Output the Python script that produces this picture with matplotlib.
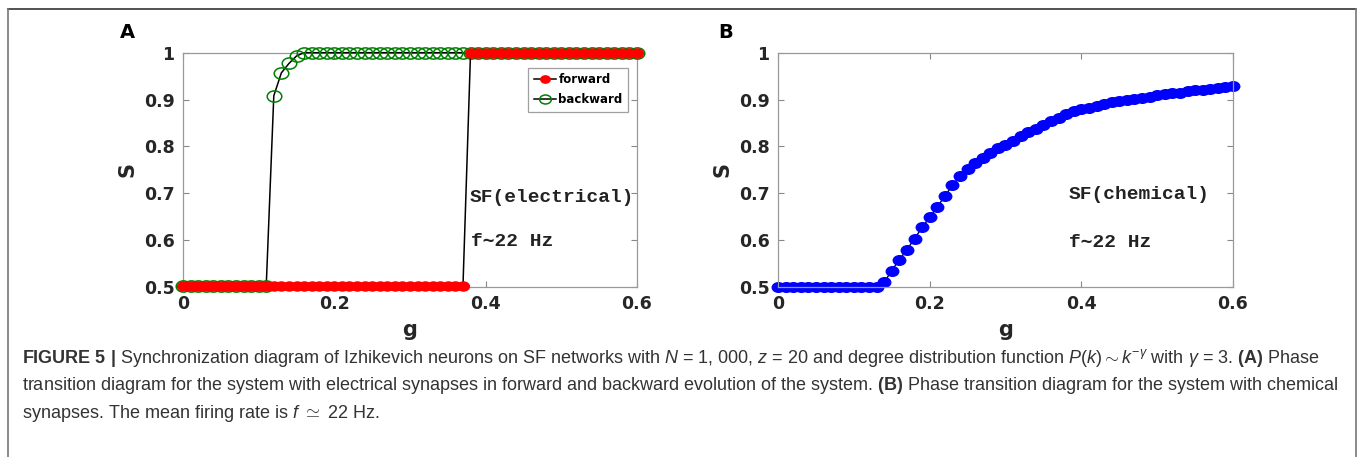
import numpy as np
import matplotlib
matplotlib.use("Agg")
import matplotlib.pyplot as plt
from matplotlib.path import Path
from matplotlib.transforms import Affine2D
from matplotlib.lines import Line2D

plt.rcParams["mathtext.fontset"] = "custom"
plt.rcParams["mathtext.rm"] = "Liberation Sans"
plt.rcParams["mathtext.it"] = "Liberation Sans:italic"
plt.rcParams["mathtext.bf"] = "Liberation Sans:bold"

# coupling strength grid (step 0.01)
g = [round(0.01 * i, 2) for i in range(61)]

# panel A: electrical synapses, forward / backward sweeps
s_forward = [0.502] * 38 + [1.0] * 23
s_backward = [0.502] * 12 + [0.908, 0.957, 0.977, 0.993] + [1.0] * 45

# panel B: chemical synapses
s_chemical = [0.5] * 14 + [
    0.510, 0.535, 0.558, 0.580, 0.603, 0.627, 0.649, 0.671, 0.694, 0.717,
    0.737, 0.752, 0.765, 0.776, 0.787, 0.796, 0.804, 0.811, 0.822, 0.831,
    0.838, 0.845, 0.854, 0.861, 0.869, 0.875, 0.879, 0.883, 0.887, 0.891,
    0.894, 0.896, 0.899, 0.901, 0.904, 0.906, 0.909, 0.911, 0.913, 0.915,
    0.918, 0.920, 0.921, 0.923, 0.925, 0.927, 0.930]

xticks = [0, 0.2, 0.4, 0.6]
xticklabels = ["0", "0.2", "0.4", "0.6"]
yticks = [0.5, 0.6, 0.7, 0.8, 0.9, 1.0]
yticklabels = ["0.5", "0.6", "0.7", "0.8", "0.9", "1"]

caption = [
    r"$\mathbf{FIGURE\ 5\ |}$ Synchronization diagram of Izhikevich neurons on SF networks with "
    r"$N$ = 1, 000, $z$ = 20 and degree distribution function $P(k){\sim}k^{-\gamma}$ with "
    r"$\gamma$ = 3. $\mathbf{(A)}$ Phase",
    r"transition diagram for the system with electrical synapses in forward and backward "
    r"evolution of the system. $\mathbf{(B)}$ Phase transition diagram for the system with chemical",
    r"synapses. The mean firing rate is $f$ $\simeq$ 22 Hz.",
]

# slightly wide ellipse marker
ellipse = Path.unit_circle().transformed(Affine2D().scale(1.3, 1.0))

W, H = 1360, 457
fig = plt.figure(figsize=(W / 100, H / 100), dpi=100)

tick_font = dict(family="DejaVu Sans", weight="bold", size=12.5, color="#262626")
mono = ["Liberation Mono", "DejaVu Sans Mono"]


def style_axes(ax):
    ax.set_xlim(0, 0.6)
    ax.set_ylim(0.5, 1.0)
    ax.set_xticks(xticks)
    ax.set_xticklabels(xticklabels, fontdict=tick_font)
    ax.set_yticks(yticks)
    ax.set_yticklabels(yticklabels, fontdict=tick_font)
    ax.tick_params(direction="in", length=4, width=0.8, color="#888888",
                   top=True, right=True, pad=6)
    for sp in ax.spines.values():
        sp.set_color("#999999")
        sp.set_linewidth(0.9)
    ax.set_xlabel("g", family="DejaVu Sans", weight="bold", size=15, color="#262626")
    ax.set_ylabel("S", family="DejaVu Sans", weight="bold", size=15, color="#262626")
    ax.xaxis.set_label_coords(0.5, -0.14)
    ax.yaxis.set_label_coords(-0.10, 0.5)


axA = fig.add_axes([183 / W, 1 - 287 / H, 454 / W, 234.3 / H])
axA.plot(g, s_backward, "-", color="k", lw=1.1, marker=ellipse, ms=10.5,
         mfc="none", mec="#008000", mew=1.1, clip_on=False, label="backward", zorder=3)
axA.plot(g, s_forward, "-", color="k", lw=1.1, marker=ellipse, ms=8.5,
         mfc="red", mec="red", clip_on=False, label="forward", zorder=4)
style_axes(axA)
h, l = axA.get_legend_handles_labels()
leg = axA.legend(h[::-1], l[::-1], loc="upper right", bbox_to_anchor=(0.98, 0.935),
                 borderaxespad=0, frameon=True, fancybox=False, handlelength=1.9,
                 handletextpad=0.2, borderpad=0.45, labelspacing=0.6,
                 markerscale=0.8,
                 prop=dict(family="DejaVu Sans", weight="bold", size=8.5))
leg.get_frame().set_edgecolor("#888888")
leg.get_frame().set_linewidth(0.9)
axA.text(0.379, 0.690, "SF(electrical)", family=mono, weight="bold", size=14,
         va="center", ha="left", color="#222222")
axA.text(0.381, 0.598, "f\u223c22 Hz", family=mono, weight="bold", size=14,
         va="center", ha="left", color="#222222")

axB = fig.add_axes([778 / W, 1 - 287 / H, 455 / W, 234.3 / H])
axB.plot(g, s_chemical, "-", color="k", lw=1.0, marker=ellipse, ms=9,
         mfc="blue", mec="blue", clip_on=False)
style_axes(axB)
axB.text(0.383, 0.698, "SF(chemical)", family=mono, weight="bold", size=14,
         va="center", ha="left", color="#222222")
axB.text(0.384, 0.594, "f\u223c22 Hz", family=mono, weight="bold", size=14,
         va="center", ha="left", color="#222222")

fig.text(127 / W, 1 - 32 / H, "A", family="DejaVu Sans", weight="bold", size=14,
         ha="center", va="center")
fig.text(726 / W, 1 - 32 / H, "B", family="DejaVu Sans", weight="bold", size=14,
         ha="center", va="center")

# caption block
for i, line in enumerate(caption):
    fig.text(22 / W, 1 - (358 + 27.5 * i) / H, line, family="Liberation Sans",
             size=13, color="#333333", ha="left", va="center")

# frame around the figure
fig.add_artist(Line2D([8 / W, 1356 / W], [1 - 9 / H, 1 - 9 / H], color="#333333", lw=1.2))
fig.add_artist(Line2D([8 / W, 8 / W], [0, 1 - 9 / H], color="#777777", lw=1.2))
fig.add_artist(Line2D([1356 / W, 1356 / W], [0, 1 - 9 / H], color="#777777", lw=1.2))

fig.savefig("out.png", dpi=100)
